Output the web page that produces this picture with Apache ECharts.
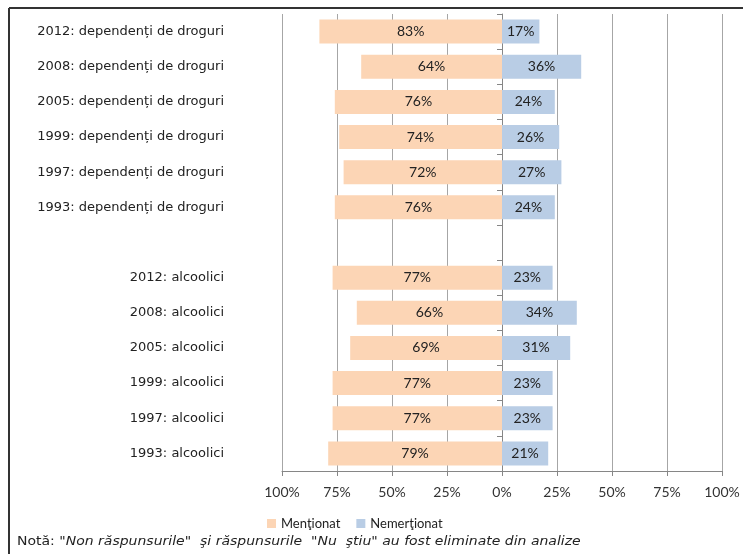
<!DOCTYPE html>
<html><head><meta charset="utf-8">
<script src="https://cdn.jsdelivr.net/npm/echarts@6/dist/echarts.min.js"></script>
<style>html,body{margin:0;padding:0;background:#fff}#c{width:743px;height:554px}</style>
</head><body><div id="c"></div>
<script>
const categories = [
  '2012: dependenți de droguri','2008: dependenți de droguri','2005: dependenți de droguri',
  '1999: dependenți de droguri','1997: dependenți de droguri','1993: dependenți de droguri',
  '',
  '2012: alcoolici','2008: alcoolici','2005: alcoolici','1999: alcoolici','1997: alcoolici','1993: alcoolici'
];
const mentionat   = [83, 64, 76, 74, 72, 76, null, 77, 66, 69, 77, 77, 79];
const nementionat = [17, 36, 24, 26, 27, 24, null, 23, 34, 31, 23, 23, 21];
const xTicks = [-100, -75, -50, -25, 0, 25, 50, 75, 100];
const legendNames = ['Menţionat', 'Nemerţionat'];

const chart = echarts.init(document.getElementById('c'));
const labelFont = 'Lato, "Open Sans", sans-serif';
chart.setOption({
  animation: false,
  grid: { left: 282, right: 21, top: 14, bottom: 83, containLabel: false, outerBoundsMode: 'none' },
  legend: {
    data: legendNames, left: 262, top: 512, itemWidth: 9, itemHeight: 9, itemGap: 16,
    icon: 'rect',
    textStyle: { fontFamily: labelFont, fontSize: 13, color: '#222' }
  },
  xAxis: {
    type: 'value', min: xTicks[0], max: xTicks[xTicks.length-1], interval: 25,
    axisLine: { show: true, lineStyle: { color: '#868686' } },
    axisTick: { show: true, length: 5, lineStyle: { color: '#868686' } },
    splitLine: { show: true, lineStyle: { color: '#a6a6a6', width: 1 } },
    axisLabel: { formatter: v => Math.abs(v) + '%', fontFamily: labelFont, fontSize: 14, color: '#333', margin: 14 }
  },
  yAxis: {
    type: 'category', data: categories, inverse: true,
    axisLine: { show: true, onZero: true, lineStyle: { color: '#868686' } },
    axisTick: { show: true, length: 5, lineStyle: { color: '#868686' } },
    axisLabel: { margin: 58, fontFamily: '"DejaVu Sans", sans-serif', fontSize: 13, color: '#222' }
  },
  series: [
    { name: legendNames[0], type: 'bar', stack: 's', barWidth: 24,
      data: mentionat.map(v => v == null ? null : -v),
      itemStyle: { color: '#FCD5B5' },
      label: { show: true, position: 'inside', formatter: p => Math.abs(p.value) + '%',
               fontFamily: labelFont, fontSize: 14, color: '#222' } },
    { name: legendNames[1], type: 'bar', stack: 's', barWidth: 24,
      data: nementionat,
      itemStyle: { color: '#B9CDE5' },
      label: { show: true, position: 'inside', formatter: p => p.value + '%',
               fontFamily: labelFont, fontSize: 14, color: '#222' } }
  ],
  graphic: [
    { type: 'line', shape: { x1: 9, y1: 8, x2: 743, y2: 8 }, style: { stroke: '#333', lineWidth: 2 } },
    { type: 'line', shape: { x1: 9, y1: 8, x2: 9, y2: 554 }, style: { stroke: '#333', lineWidth: 2 } },
    { type: 'text', x: 17, y: 535, scaleX: 1.12, style: {
        text: '{n|Notă: }{i|"Non răspunsurile"  şi răspunsurile  "Nu  ştiu" au fost eliminate din analize}',
        rich: {
          n: { fontFamily: '"DejaVu Sans", sans-serif', fontSize: 12.5, fill: '#222' },
          i: { fontFamily: '"DejaVu Sans", sans-serif', fontSize: 12.5, fontStyle: 'italic', fill: '#222' }
        } } }
  ]
});
</script></body></html>
